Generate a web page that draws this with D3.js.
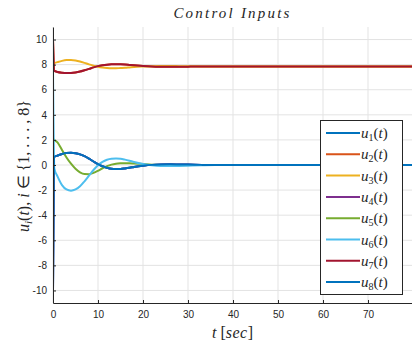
<!DOCTYPE html>
<html>
<head>
<meta charset="utf-8">
<script src="https://cdn.jsdelivr.net/npm/d3@7"></script>
<style>
  body { margin: 0; background: #fff; }
  svg { display: block; }
  .tick-label { font-family: "Liberation Sans", Arial, sans-serif; font-size: 10px; fill: #262626; }
  .tex { font-family: "Liberation Serif", "Times New Roman", serif; fill: #262626; }
</style>
</head>
<body>
<svg id="chart" width="412" height="345"></svg>
<script>
(function () {
    // time samples (sec)
    var times = [0, 0.3, 1, 2, 3, 4, 5, 6, 7, 8, 9, 10, 11, 12, 13, 14, 15, 16, 17, 18,
                 20, 22, 24, 26, 28, 30, 33, 36, 40, 45, 50, 60, 70, 80];

    // u2 sits under u7, u1/u4 sit under u8
    var u7 = [10, 7.5, 7.42, 7.36, 7.33, 7.34, 7.38, 7.45, 7.55, 7.66, 7.78, 7.88, 7.95, 8.0, 8.03, 8.04, 8.03, 8.01, 7.98, 7.95,
              7.9, 7.86, 7.84, 7.83, 7.83, 7.84, 7.85, 7.85, 7.85, 7.85, 7.85, 7.85, 7.85, 7.85];
    var u2 = [10, 7.5, 7.42, 7.36, 7.33, 7.34, 7.38, 7.45, 7.55, 7.66, 7.78, 7.88, 7.95, 8.0, 8.03, 8.04, 8.03, 8.01, 7.98, 7.95,
              7.9, 7.86, 7.84, 7.83, 7.83, 7.84, 7.85, 7.85, 7.85, 7.85, 7.85, 7.85, 7.85, 7.85];
    var u3 = [8.0, 8.12, 8.2, 8.3, 8.36, 8.37, 8.33, 8.25, 8.14, 8.02, 7.92, 7.83, 7.77, 7.73, 7.71, 7.71, 7.73, 7.75, 7.78, 7.81,
              7.85, 7.88, 7.89, 7.89, 7.88, 7.87, 7.86, 7.85, 7.85, 7.85, 7.85, 7.85, 7.85, 7.85];
    var u5 = [2.1, 2.0, 1.8, 1.2, 0.6, 0.1, -0.3, -0.58, -0.72, -0.73, -0.63, -0.46, -0.26, -0.09, 0.03, 0.1, 0.13, 0.14, 0.14, 0.12,
              0.07, 0.03, 0.0, -0.02, -0.02, -0.01, 0, 0, 0, 0, 0, 0, 0, 0];
    var u6 = [7.5, -0.3, -0.9, -1.6, -1.95, -2.05, -1.95, -1.7, -1.3, -0.85, -0.4, -0.02, 0.25, 0.42, 0.5, 0.52, 0.5, 0.43, 0.34, 0.24,
              0.08, -0.02, -0.07, -0.08, -0.07, -0.05, -0.02, 0, 0, 0, 0, 0, 0, 0];
    var u8 = [-10, 0.65, 0.75, 0.88, 0.96, 0.98, 0.94, 0.85, 0.7, 0.5, 0.28, 0.07, -0.1, -0.22, -0.3, -0.32, -0.31, -0.27, -0.22, -0.16,
              -0.06, 0.01, 0.04, 0.05, 0.04, 0.03, 0.01, 0, 0, 0, 0, 0, 0, 0];
    var u1 = u8.slice();
    var u4 = u8.slice();

    var seriesNames = ["1", "2", "3", "4", "5", "6", "7", "8"];
    var seriesValues = [u1, u2, u3, u4, u5, u6, u7, u8];
    var seriesColors = ["#0072BD", "#D95319", "#EDB120", "#7E2F8E", "#77AC30", "#4DBEEE", "#A2142F", "#0072BD"];

    var xTicks = [0, 10, 20, 30, 40, 50, 60, 70];
    var yTicks = [-10, -8, -6, -4, -2, 0, 2, 4, 6, 8, 10];

    var svg = d3.select("#chart");
    var left = 53, right = 413, top = 27, bottom = 303;

    var x = d3.scaleLinear().domain([0, 80]).range([left, right]);
    var y = d3.scaleLinear().domain([-11, 11]).range([bottom, top]);

    svg.append("defs").append("clipPath").attr("id", "plotClip")
        .append("rect").attr("x", left).attr("y", top)
        .attr("width", right - left).attr("height", bottom - top);

    // grid
    var grid = svg.append("g");
    grid.selectAll(".gx").data(xTicks).enter().append("line")
        .attr("x1", function (d) { return x(d); }).attr("x2", function (d) { return x(d); })
        .attr("y1", top).attr("y2", bottom)
        .attr("stroke", "#e3e3e3").attr("stroke-width", 1);
    grid.selectAll(".gy").data(yTicks).enter().append("line")
        .attr("x1", left).attr("x2", right)
        .attr("y1", function (d) { return y(d); }).attr("y2", function (d) { return y(d); })
        .attr("stroke", "#e3e3e3").attr("stroke-width", 1);

    // lines
    var line = d3.line()
        .x(function (d, i) { return x(times[i]); })
        .y(function (d) { return y(d); })
        .curve(d3.curveMonotoneX);

    var plot = svg.append("g").attr("clip-path", "url(#plotClip)");
    seriesValues.forEach(function (vals, k) {
        plot.append("path")
            .attr("d", line(vals))
            .attr("fill", "none")
            .attr("stroke", seriesColors[k])
            .attr("stroke-width", 2);
    });

    // axes (ticks inward, MATLAB-like)
    var xAxis = d3.axisBottom(x).tickValues(xTicks).tickSizeInner(-3).tickSizeOuter(0).tickPadding(8);
    var yAxis = d3.axisLeft(y).tickValues(yTicks).tickSizeInner(-3).tickSizeOuter(0).tickPadding(6)
        .tickFormat(function (d) { return d < 0 ? "-" + Math.abs(d) : d; });

    var gx = svg.append("g").attr("transform", "translate(0," + bottom + ")").call(xAxis);
    var gy = svg.append("g").attr("transform", "translate(" + left + ",0)").call(yAxis);
    [gx, gy].forEach(function (g) {
        g.select(".domain").attr("stroke", "#262626").attr("stroke-width", 1);
        g.selectAll(".tick line").attr("stroke", "#262626");
        g.selectAll(".tick text").attr("class", "tick-label").attr("fill", "#262626");
    });

    // title
    svg.append("text").attr("class", "tex")
        .attr("x", (left + 412) / 2).attr("y", 18)
        .attr("text-anchor", "middle")
        .style("font-size", "15px").style("font-style", "italic").style("letter-spacing", "2.2px")
        .text("Control Inputs");

    // x label
    var xl = svg.append("text").attr("class", "tex")
        .attr("x", (left + 412) / 2).attr("y", 338)
        .attr("text-anchor", "middle").style("font-size", "16px");
    xl.append("tspan").style("font-style", "italic").text("t");
    xl.append("tspan").text(" [");
    xl.append("tspan").style("font-style", "italic").style("letter-spacing", "0.5px").text("sec");
    xl.append("tspan").text("]");

    // y label
    var yl = svg.append("text").attr("class", "tex")
        .attr("transform", "translate(29," + (y(0) + 1) + ") rotate(-90)")
        .attr("text-anchor", "middle").style("font-size", "16px");
    yl.append("tspan").style("font-style", "italic").text("u");
    yl.append("tspan").style("font-style", "italic").style("font-size", "11px").attr("dy", 3).text("i");
    yl.append("tspan").attr("dy", -3).text("(");
    yl.append("tspan").style("font-style", "italic").text("t");
    yl.append("tspan").text("), ");
    yl.append("tspan").style("font-style", "italic").text("i");
    yl.append("tspan").text(" \u2208 {1, . . . , 8}");

    // legend
    var lg = svg.append("g");
    lg.append("rect").attr("x", 320.5).attr("y", 120.5).attr("width", 82).attr("height", 174)
        .attr("fill", "#fff").attr("stroke", "#262626").attr("stroke-width", 1);
    seriesNames.forEach(function (name, k) {
        var ry = 133 + k * 21.3;
        lg.append("line").attr("x1", 326).attr("x2", 360).attr("y1", ry).attr("y2", ry)
            .attr("stroke", seriesColors[k]).attr("stroke-width", 2);
        var t = lg.append("text").attr("class", "tex").attr("x", 361).attr("y", ry + 5)
            .style("font-size", "15px");
        t.append("tspan").style("font-style", "italic").text("u");
        t.append("tspan").style("font-size", "10px").attr("dy", 3).text(name);
        t.append("tspan").attr("dy", -3).text("(");
        t.append("tspan").style("font-style", "italic").text("t");
        t.append("tspan").text(")");
    });
})();
</script>
</body>
</html>
